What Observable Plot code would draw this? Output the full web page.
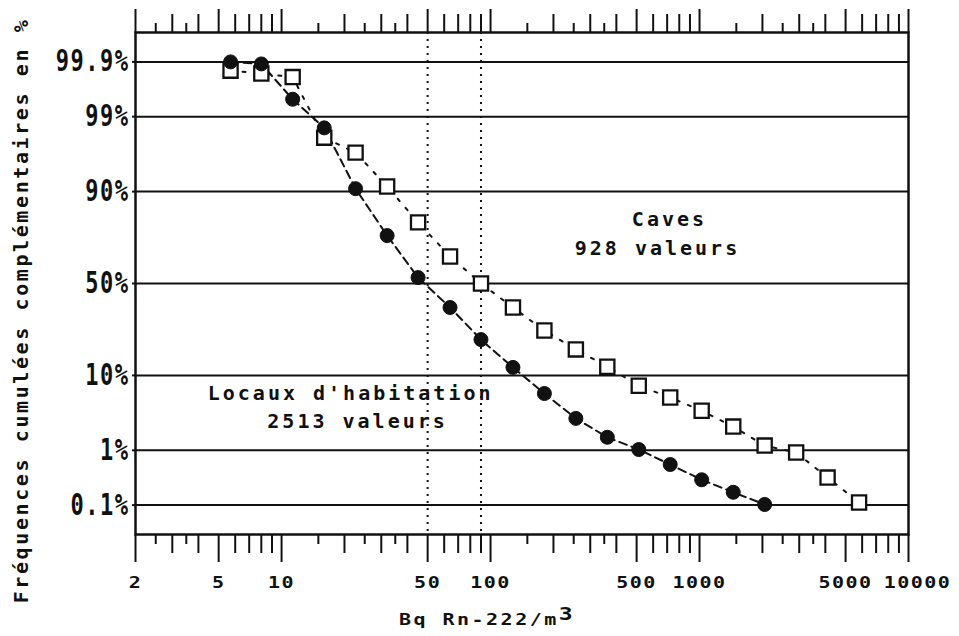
<!DOCTYPE html>
<html>
<head>
<meta charset="utf-8">
<script src="https://cdn.jsdelivr.net/npm/d3@7"></script>
<script src="https://cdn.jsdelivr.net/npm/@observablehq/plot@0.6"></script>
<style>
html, body { margin: 0; padding: 0; background: #fff; }
#chart svg { display: block; }
</style>
</head>
<body>
<div id="chart"></div>
<script>
// ---- data ----
const xHabitation = [5.7, 8, 11.3, 16, 22.6, 32, 45, 64, 90, 128, 181, 256, 362, 512, 724, 1024, 1450, 2050];
const pHabitation = [99.9, 99.89, 99.49, 98.5, 90.7, 74.8, 53.3, 36.9, 21.7, 12.1, 6.25, 3.0, 1.6, 1.03, 0.58, 0.31, 0.18, 0.103];
const xCaves = [5.7, 8, 11.3, 16, 22.6, 32, 45, 64, 90, 128, 181, 256, 362, 512, 724, 1024, 1450, 2050, 2900, 4100, 5800];
const pCaves = [99.85, 99.83, 99.8, 97.9, 96.6, 91.2, 80.3, 64.7, 50, 36.9, 25.6, 17.9, 12.3, 7.7, 5.6, 3.8, 2.3, 1.19, 0.92, 0.34, 0.113];

const yTicks = [99.9, 99, 90, 50, 10, 1, 0.1];
const xMajorTicks = [2, 5, 10, 50, 100, 500, 1000, 5000, 10000];
const xTickLabels = ["2", "5", "10", "50", "100", "500", "1000", "5000", "10000"];
const xMediumTicks = [3, 4, 6, 7, 8, 9, 20, 30, 40, 60, 70, 80, 90, 200, 300, 400, 600, 700, 800, 900, 2000, 3000, 4000, 6000, 7000, 8000, 9000];
const xMinorTicks = [2.5, 3.5, 15, 25, 35, 150, 250, 350, 1500, 2500, 3500];
const refLines = [50, 90];

const annotationText = ["Caves", "928 valeurs", "Locaux d'habitation", "2513 valeurs"];
const annotationX = [718, 629, 21.4, 23.1];
const annotationP = [81.2, 68.9, 6.3, 2.75];

const xTitle = "Bq Rn-222/m";
const xTitleSup = "3";
const yTitle = "Fréquences cumulées complémentaires en %";

// ---- normal-probability scale transform (percent -> z) ----
function probit(p) {
  const a = [-3.969683028665376e+01, 2.209460984245205e+02, -2.759285104469687e+02, 1.383577518672690e+02, -3.066479806614716e+01, 2.506628277459239e+00];
  const b = [-5.447609879822406e+01, 1.615858368580409e+02, -1.556989798598866e+02, 6.680131188771972e+01, -1.328068155288572e+01];
  const c = [-7.784894002430293e-03, -3.223964580411365e-01, -2.400758277161838e+00, -2.549732539343734e+00, 4.374664141464968e+00, 2.938163982698783e+00];
  const d = [7.784695709041462e-03, 3.224671290700398e-01, 2.445134137142996e+00, 3.754408661907416e+00];
  const pl = 0.02425, ph = 1 - pl;
  let q, r;
  if (p < pl) {
    q = Math.sqrt(-2 * Math.log(p));
    return (((((c[0]*q+c[1])*q+c[2])*q+c[3])*q+c[4])*q+c[5]) / ((((d[0]*q+d[1])*q+d[2])*q+d[3])*q+1);
  }
  if (p <= ph) {
    q = p - 0.5; r = q * q;
    return (((((a[0]*r+a[1])*r+a[2])*r+a[3])*r+a[4])*r+a[5])*q / (((((b[0]*r+b[1])*r+b[2])*r+b[3])*r+b[4])*r+1);
  }
  q = Math.sqrt(-2 * Math.log(1 - p));
  return -(((((c[0]*q+c[1])*q+c[2])*q+c[3])*q+c[4])*q+c[5]) / ((((d[0]*q+d[1])*q+d[2])*q+d[3])*q+1);
}

const habitation = xHabitation.map((x, i) => ({x, p: pHabitation[i]}));
const caves = xCaves.map((x, i) => ({x, p: pCaves[i]}));
const annotations = annotationText.map((t, i) => ({t, x: annotationX[i], p: annotationP[i]}));
const xLabels = xMajorTicks.map((x, i) => ({x, t: xTickLabels[i]}));
const xMax = xMajorTicks[xMajorTicks.length - 1];

const FONT = "DejaVu Sans Mono";
const INK = "#111";
const noText = () => "";
const labelStyle = {x: "x", text: "t", frameAnchor: "bottom", lineAnchor: "top", textAnchor: "middle", dy: 43,
  fontSize: 20, fontWeight: "bold", fontFamily: FONT, fill: INK, className: "xlabel"};

const chart = Plot.plot({
  width: 959,
  height: 636,
  marginLeft: 135,
  marginRight: 51,
  marginTop: 32,
  marginBottom: 102,
  style: {background: "#fff", color: INK},
  x: {type: "log", domain: [2, 10000]},
  y: {type: "linear", transform: (p) => probit(p / 100), domain: [-3.5, 3.5]},
  marks: [
    Plot.ruleY(yTicks, {stroke: INK, strokeWidth: 2}),
    Plot.ruleX(refLines, {stroke: INK, strokeWidth: 2, strokeDasharray: "2,5"}),
    // bottom ticks
    Plot.axisX(xMajorTicks, {anchor: "bottom", tickSize: 28, tickFormat: noText, strokeWidth: 2, label: null}),
    Plot.axisX(xMediumTicks, {anchor: "bottom", tickSize: 19, tickFormat: noText, strokeWidth: 2, label: null}),
    Plot.axisX(xMinorTicks, {anchor: "bottom", tickSize: 10, tickFormat: noText, strokeWidth: 2, label: null}),
    // top ticks
    Plot.axisX(xMajorTicks, {anchor: "top", tickSize: 24, tickFormat: noText, strokeWidth: 2, label: null}),
    Plot.axisX(xMediumTicks, {anchor: "top", tickSize: 19, tickFormat: noText, strokeWidth: 2, label: null}),
    Plot.axisX(xMinorTicks, {anchor: "top", tickSize: 10, tickFormat: noText, strokeWidth: 2, label: null}),
    // x tick labels (the last one nudged right, as on the original plot)
    Plot.text(xLabels, {...labelStyle, filter: (d) => d.x < xMax}),
    Plot.text(xLabels, {...labelStyle, filter: (d) => d.x === xMax, dx: 9}),
    // y labels
    Plot.axisY(yTicks, {anchor: "left", tickSize: 3, tickPadding: 3, tickFormat: (d) => d + "%",
      fontSize: 22, fontWeight: "bold", fontFamily: FONT, strokeWidth: 2, label: null}),
    Plot.frame({stroke: INK, strokeWidth: 2.5}),
    // series lines
    Plot.line(caves, {x: "x", y: "p", stroke: INK, strokeWidth: 2, strokeDasharray: "3,9"}),
    Plot.line(habitation, {x: "x", y: "p", stroke: INK, strokeWidth: 2, strokeDasharray: "8,5"}),
    // markers
    Plot.dot(caves, {x: "x", y: "p", symbol: "square", r: 8, fill: "#fff", stroke: INK, strokeWidth: 2.3}),
    Plot.dot(habitation, {x: "x", y: "p", r: 7, fill: INK, stroke: INK, strokeWidth: 1}),
    // annotations
    Plot.text(annotations, {x: "x", y: "p", text: "t", fontSize: 20, fontWeight: "bold", fontFamily: FONT,
      fill: INK, lineAnchor: "middle", textAnchor: "middle", className: "annot"}),
    // axis titles
    Plot.text([xTitle], {frameAnchor: "bottom", dx: -35, dy: 86, text: (d) => d, fontSize: 20, fontWeight: "bold",
      fontFamily: FONT, fill: INK, lineAnchor: "middle", textAnchor: "middle", className: "xtitle"}),
    Plot.text([yTitle], {frameAnchor: "left", dx: -114, dy: 27, rotate: -90, text: (d) => d, fontSize: 20, fontWeight: "bold",
      fontFamily: FONT, fill: INK, lineAnchor: "middle", textAnchor: "middle", className: "ytitle"})
  ]
});

document.getElementById("chart").appendChild(chart);

// ---- typographic touches emulating the old plotter font ----
const svg = d3.select(chart);
function appendTransform(sel, extra) {
  sel.each(function () {
    const t = this.getAttribute("transform") || "";
    this.setAttribute("transform", (t + " " + extra).trim());
  });
}
const xLabelSel = svg.selectAll("g.xlabel text");
xLabelSel.attr("letter-spacing", 1.5);
appendTransform(xLabelSel, "scale(1,0.75)");

const yLabelSel = svg.selectAll('g[aria-label="y-axis tick label"] text');
yLabelSel.attr("letter-spacing", 1.5);
appendTransform(yLabelSel, "scale(1,1.35)");

svg.selectAll("g.annot text").attr("letter-spacing", 3);
svg.selectAll("g.ytitle text").attr("letter-spacing", 2.6);

const xt = svg.selectAll("g.xtitle text");
xt.attr("letter-spacing", 2.5);
appendTransform(xt, "scale(1,0.75)");
xt.append("tspan").attr("dy", "-0.3em").attr("font-size", 23).text(xTitleSup);
</script>
</body>
</html>
